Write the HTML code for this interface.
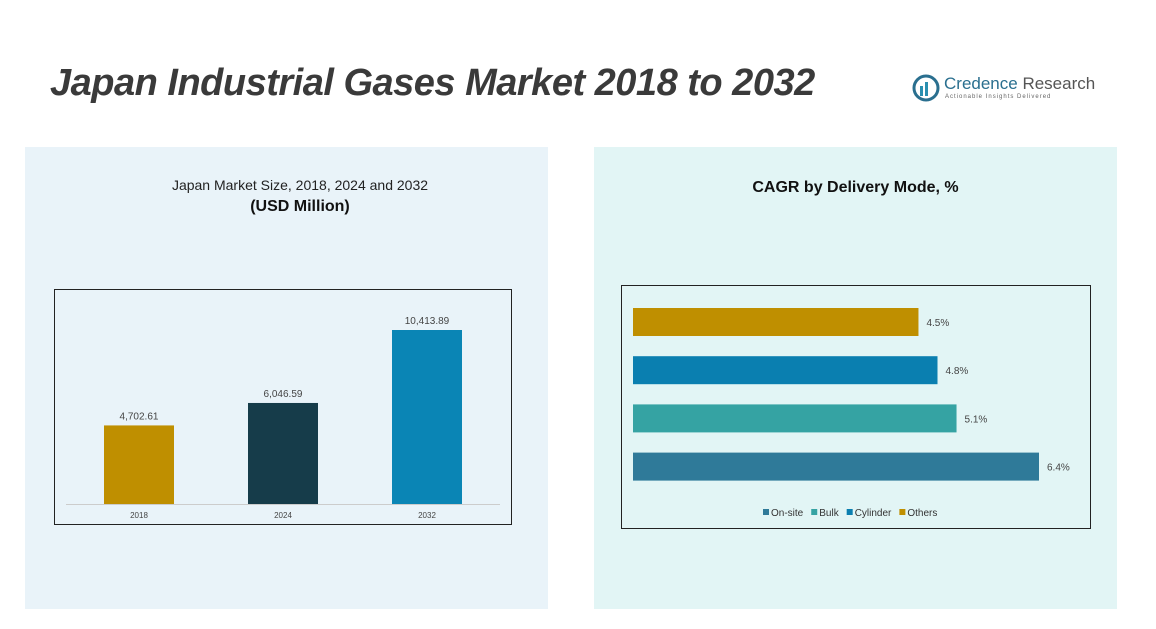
<!DOCTYPE html>
<html><head><meta charset="utf-8">
<style>
body{margin:0;width:1156px;height:629px;background:#fff;position:relative;overflow:hidden;font-family:"Liberation Sans",sans-serif}
.abs{position:absolute}
</style></head><body>
<div class="abs" style="left:50px;top:62px;font-size:38px;font-weight:bold;font-style:italic;color:#3a3a3a;letter-spacing:-0.5px;white-space:nowrap">Japan Industrial Gases Market 2018 to 2032</div>
<div class="abs" style="left:912px;top:74px;width:190px;height:30px;white-space:nowrap">
 <svg width="28" height="28" style="position:absolute;left:0;top:0"><circle cx="14" cy="14" r="12" fill="none" stroke="#2a6f8f" stroke-width="3"/><rect x="8" y="12" width="3" height="10" fill="#2a8fb0"/><rect x="13" y="8" width="3" height="14" fill="#2a8fb0"/></svg>
 <div style="position:absolute;left:32px;top:0;font-size:17px;color:#2a6f8f;white-space:nowrap">Credence <span style="color:#555">Research</span></div>
 <div style="position:absolute;left:33px;top:20px;font-size:6px;color:#666;letter-spacing:1px;white-space:nowrap">Actionable Insights Delivered</div>
</div>
<div class="abs" style="left:25px;top:147px;width:523px;height:462px;background:#e9f3f9"></div>
<div class="abs" style="left:594px;top:147px;width:523px;height:462px;background:#e2f5f5"></div>
<div class="abs" style="left:25px;top:177px;width:550px;text-align:center;font-size:14px;color:#222">Japan Market Size, 2018, 2024 and 2032</div>
<div class="abs" style="left:25px;top:198px;width:550px;text-align:center;font-size:16px;font-weight:bold;color:#111">(USD Million)</div>
<div class="abs" style="left:594px;top:179px;width:523px;text-align:center;font-size:16px;font-weight:bold;color:#111">CAGR by Delivery Mode, %</div>
<svg class="abs" style="left:0;top:0" width="1156" height="629" id="svg"></svg>
<script>
const years=["2018","2024","2032"];
const sizes=[4702.61,6046.59,10413.89];
const sizeLabels=["4,702.61","6,046.59","10,413.89"];
const yearColors=["#bf8f00","#163c4a","#0a85b5"];
const modes=["Others","Cylinder","Bulk","On-site"];
const cagr=[4.5,4.8,5.1,6.4];
const modeColors=["#bf8f00","#0a7fb0","#35a3a3","#2f7a99"];
const legendOrder=["On-site","Bulk","Cylinder","Others"];
const legendColors=["#2f7a99","#35a3a3","#0a7fb0","#bf8f00"];
const s=document.getElementById('svg');const NS="http://www.w3.org/2000/svg";
function mk(t,a,txt){const e=document.createElementNS(NS,t);for(const k in a)e.setAttribute(k,a[k]);if(txt!==undefined)e.textContent=txt;s.appendChild(e);return e;}
let f=mk('rect',{x:54.5,y:289.5,width:457,height:235,fill:'none',stroke:'#222'});


let ax=mk('line',{x1:66,x2:500,y1:504.5,y2:504.5,stroke:'#ccc'});


const base=504,ys=v=>v*174/10413.89,xc=i=>139+i*144;
years.forEach((y,i)=>{
 const h=ys(sizes[i]);
 const r=mk('rect',{x:xc(i)-35,y:base-h,width:70,height:h,fill:yearColors[i]});
 
 
 const l=mk('text',{x:xc(i),y:base-h-6,'font-size':10,fill:'#444','text-anchor':'middle'},sizeLabels[i]);
 
 
 const t=mk('text',{x:xc(i),y:518,'font-size':8,fill:'#444','text-anchor':'middle'},y);
 
 
});
let f2=mk('rect',{x:621.5,y:285.5,width:469,height:243,fill:'none',stroke:'#222'});


const x0=633,xs=v=>v*406/6.4,yb=i=>308+i*48.2;
modes.forEach((m,i)=>{
 const w=xs(cagr[i]);
 const r=mk('rect',{x:x0,y:yb(i),width:w,height:28,fill:modeColors[i]});
 
 
 const l=mk('text',{x:x0+w+8,y:yb(i)+18,'font-size':10,fill:'#444'},cagr[i]+'%');
 
 
});
let lx=763;
legendOrder.forEach((m,i)=>{
 const r=mk('rect',{x:lx,y:509,width:6,height:6,fill:legendColors[i]});
 
 
 const t=mk('text',{x:lx+8,y:516,'font-size':10,fill:'#333'},m);
 
 
 lx+=8+t.getComputedTextLength()+8;
});
</script>
</body></html>
